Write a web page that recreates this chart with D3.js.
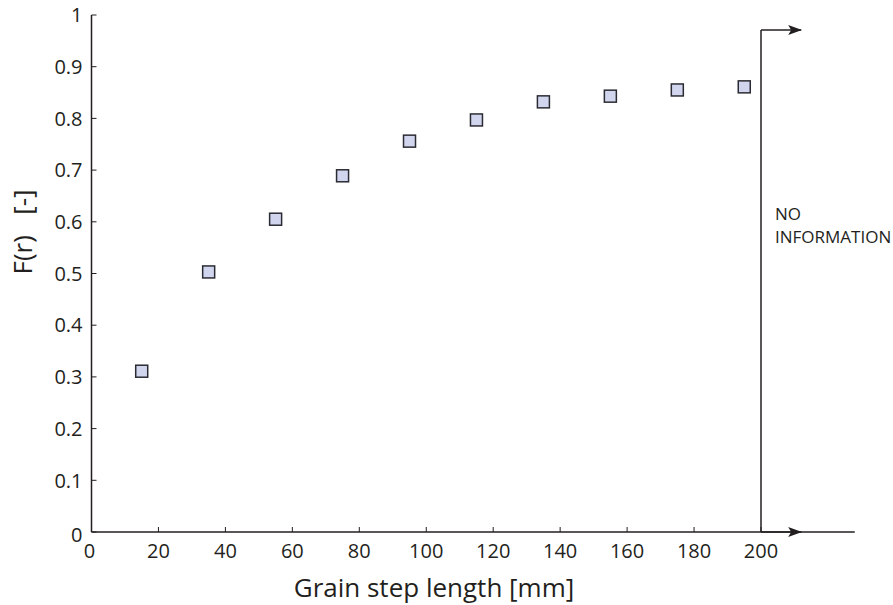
<!DOCTYPE html>
<html><head><meta charset="utf-8">
<script src="https://cdn.jsdelivr.net/npm/d3@7/dist/d3.min.js"></script>
<style>body{margin:0;background:#fff}svg{display:block}text{font-family:"Open Sans",sans-serif;fill:#231f20}</style>
</head><body><svg id="c" width="893" height="605"></svg>
<script>
const stepLength = [15,35,55,75,95,115,135,155,175,195];
const fValues = [0.311,0.503,0.605,0.689,0.756,0.797,0.832,0.843,0.855,0.861];
const xTicks = [0,20,40,60,80,100,120,140,160,180,200];
const yTicks = [0,0.1,0.2,0.3,0.4,0.5,0.6,0.7,0.8,0.9,1];
const yTickLabels = ["0","0.1","0.2","0.3","0.4","0.5","0.6","0.7","0.8","0.9","1"];
const noInfoStart = 200, noInfoTop = 0.971, arrowEnd = 212, xAxisEnd = 228;

const svg = d3.select("#c");
const x = d3.scaleLinear().domain([0,200]).range([91.5,761]);
const y = d3.scaleLinear().domain([0,1]).range([532,15]);
const ink = "#231f20";

// axes lines
svg.append("line").attr("x1",x(0)).attr("x2",x(xAxisEnd)).attr("y1",y(0)).attr("y2",y(0)).attr("stroke",ink).attr("stroke-width",1.5);
svg.append("line").attr("x1",x(0)).attr("x2",x(0)).attr("y1",y(0)).attr("y2",y(1)).attr("stroke",ink).attr("stroke-width",1.5);

// y ticks (inward)
svg.selectAll(".yt").data(yTicks).join("line").attr("x1",x(0)).attr("x2",x(0)+5)
  .attr("y1",d=>y(d)).attr("y2",d=>y(d)).attr("stroke",ink).attr("stroke-width",1);
svg.selectAll(".yl").data(yTicks).join("text").attr("x",x(0)-9).attr("y",(d,i)=>y(d)+ (i===0?3:0))
  .attr("dy","0.36em").attr("text-anchor","end").attr("font-size",20).text((d,i)=>yTickLabels[i]);

// x ticks (inward)
svg.selectAll(".xt").data(xTicks.filter(d=>d>0)).join("line").attr("x1",d=>x(d)).attr("x2",d=>x(d))
  .attr("y1",y(0)).attr("y2",y(0)-5).attr("stroke",ink).attr("stroke-width",1);
svg.selectAll(".xl").data(xTicks).join("text").attr("x",d=>x(d)-(d===0?2:0)).attr("y",558)
  .attr("text-anchor","middle").attr("font-size",20).text(d=>d);

// titles
svg.append("text").attr("x",434).attr("y",597).attr("text-anchor","middle").attr("font-size",26).text("Grain step length [mm]");
svg.append("text").attr("transform",`translate(32,232) rotate(-90)`).attr("text-anchor","middle").attr("font-size",26)
  .attr("xml:space","preserve").text("F(r)   [-]");

// no information bracket
svg.append("defs").append("marker").attr("id","ah").attr("viewBox","0 0 14 10").attr("refX",13).attr("refY",5)
  .attr("markerWidth",14).attr("markerHeight",10).attr("markerUnits","userSpaceOnUse").attr("orient","auto")
  .append("path").attr("d","M0,0 L14,5 L0,10 L3,5 Z").attr("fill",ink);
svg.append("path").attr("d",`M${x(noInfoStart)},${y(noInfoTop)} L${x(noInfoStart)},${y(0)}`)
  .attr("fill","none").attr("stroke",ink).attr("stroke-width",1.5);
svg.append("line").attr("x1",x(noInfoStart)).attr("x2",x(arrowEnd)).attr("y1",y(noInfoTop)).attr("y2",y(noInfoTop))
  .attr("stroke",ink).attr("stroke-width",1.5).attr("marker-end","url(#ah)");
svg.append("line").attr("x1",x(noInfoStart)).attr("x2",x(arrowEnd)).attr("y1",y(0)).attr("y2",y(0))
  .attr("stroke",ink).attr("stroke-width",1.5).attr("marker-end","url(#ah)");
svg.append("text").attr("x",x(noInfoStart)+14).attr("y",219.5).attr("font-size",17).text("NO");
svg.append("text").attr("x",x(noInfoStart)+14).attr("y",242.5).attr("font-size",17).text("INFORMATION");

// markers
const s = 12;
svg.selectAll(".pt").data(stepLength).join("rect").attr("x",d=>x(d)-s/2).attr("y",(d,i)=>y(fValues[i])-s/2)
  .attr("width",s).attr("height",s).attr("fill","#d1d6ee").attr("stroke","#2b2b33").attr("stroke-width",1.5);
</script></body></html>
